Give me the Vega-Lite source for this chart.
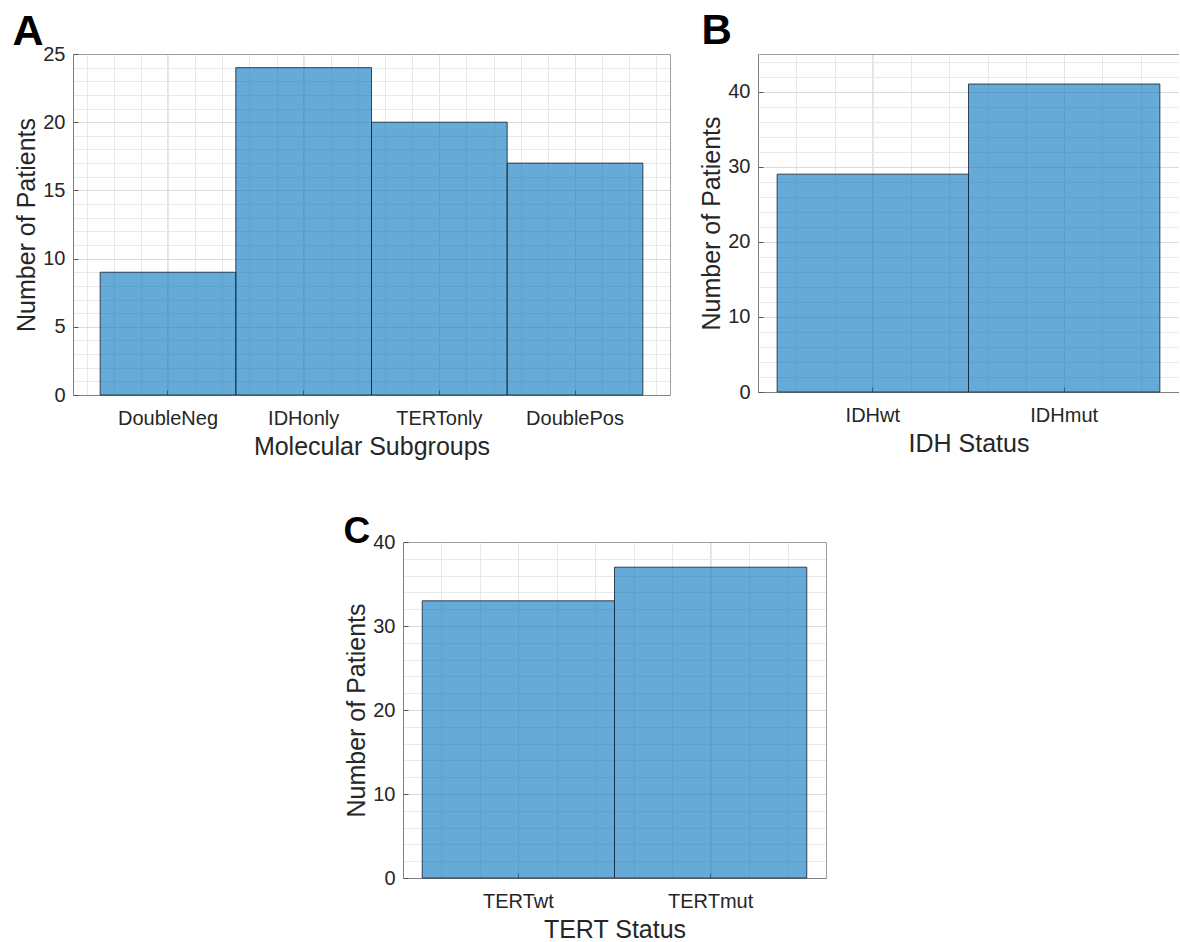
{
  "$schema": "https://vega.github.io/schema/vega-lite/v6.json",
  "padding": {"left": 12, "top": 9, "right": 0, "bottom": 5},
  "background": "white",
  "datasets": {
    "A": [
      {"group": "DoubleNeg", "count": 9},
      {"group": "IDHonly", "count": 24},
      {"group": "TERTonly", "count": 20},
      {"group": "DoublePos", "count": 17}
    ],
    "B": [
      {"group": "IDHwt", "count": 29},
      {"group": "IDHmut", "count": 41}
    ],
    "C": [
      {"group": "TERTwt", "count": 33},
      {"group": "TERTmut", "count": 37}
    ]
  },
  "align": "none",
  "spacing": 53,
  "vconcat": [
    {
      "align": "none",
      "spacing": 29,
      "hconcat": [
        {
          "width": 597, "height": 341,
          "data": {"name": "A"},
          "layer": [
            {
              "mark": {"type": "point", "opacity": 0},
              "encoding": {
                "x": {"datum": 1, "type": "quantitative", "scale": {"domain": [0.3, 4.7], "nice": false, "zero": false},
                  "axis": {"orient": "top", "values": [0.4,0.6,0.8,1,1.2,1.4,1.6,1.8,2,2.2,2.4,2.6,2.8,3,3.2,3.4,3.6,3.8,4,4.2,4.4,4.6], "grid": true, "gridColor": "#e9e9e9", "labels": false, "ticks": false, "domain": true, "domainColor": "#a0a0a0",
                    "title": "A", "titleX": -61, "titleY": -10, "titleAlign": "left", "titleBaseline": "alphabetic", "titleAngle": 0, "titleFontSize": 43, "titleFontWeight": "bold", "titleColor": "#000000"}},
                "y": {"datum": 0, "type": "quantitative", "scale": {"domain": [0, 25], "nice": false},
                  "axis": {"orient": "right", "values": [1,2,3,4,6,7,8,9,11,12,13,14,16,17,18,19,21,22,23,24], "grid": true, "gridColor": "#e9e9e9", "labels": false, "ticks": false, "domain": true, "domainColor": "#a0a0a0", "title": null}}
              }
            },
            {
              "mark": {"type": "bar", "fill": "#0072BD", "fillOpacity": 0.6, "stroke": "#1a2a3a", "strokeOpacity": 0.85, "strokeWidth": 1},
              "encoding": {
                "x": {"field": "group", "type": "nominal", "sort": null, "scale": {"paddingInner": 0, "paddingOuter": 0.2},
                  "axis": {"orient": "bottom", "title": "Molecular Subgroups", "labelAngle": 0, "grid": true, "gridColor": "#e2e2e2", "tickSize": -5, "tickColor": "#555555", "domainColor": "#808080", "labelPadding": 18, "titlePadding": 6}},
                "y": {"field": "count", "type": "quantitative", "scale": {"domain": [0, 25], "nice": false},
                  "axis": {"values": [0,5,10,15,20,25], "title": "Number of Patients", "grid": true, "gridColor": "#dcdcdc", "tickSize": -5, "tickColor": "#555555", "domainColor": "#808080", "labelPadding": 13, "titlePadding": 3}}
              }
            }
          ],
          "resolve": {"scale": {"x": "independent", "y": "independent"}, "axis": {"x": "independent", "y": "independent"}}
        },
        {
          "width": 421, "height": 338,
          "data": {"name": "B"},
          "layer": [
            {
              "mark": {"type": "point", "opacity": 0},
              "encoding": {
                "x": {"datum": 1, "type": "quantitative", "scale": {"domain": [0.4, 2.6], "nice": false, "zero": false},
                  "axis": {"orient": "top", "values": [0.6,0.8,1,1.2,1.4,1.6,1.8,2,2.2,2.4], "grid": true, "gridColor": "#e9e9e9", "labels": false, "ticks": false, "domain": true, "domainColor": "#a0a0a0",
                    "title": "B", "titleX": -57, "titleY": -11, "titleAlign": "left", "titleBaseline": "alphabetic", "titleAngle": 0, "titleFontSize": 42, "titleFontWeight": "bold", "titleColor": "#000000"}},
                "y": {"datum": 0, "type": "quantitative", "scale": {"domain": [0, 45], "nice": false},
                  "axis": {"orient": "right", "values": [2,4,6,8,12,14,16,18,22,24,26,28,32,34,36,38,42,44], "grid": true, "gridColor": "#e9e9e9", "labels": false, "ticks": false, "domain": true, "domainColor": "#a0a0a0", "title": null}}
              }
            },
            {
              "mark": {"type": "bar", "fill": "#0072BD", "fillOpacity": 0.6, "stroke": "#1a2a3a", "strokeOpacity": 0.85, "strokeWidth": 1},
              "encoding": {
                "x": {"field": "group", "type": "nominal", "sort": null, "scale": {"paddingInner": 0, "paddingOuter": 0.1},
                  "axis": {"orient": "bottom", "title": "IDH Status", "labelAngle": 0, "grid": true, "gridColor": "#e2e2e2", "tickSize": -5, "tickColor": "#555555", "domainColor": "#808080", "labelPadding": 18, "titlePadding": 6}},
                "y": {"field": "count", "type": "quantitative", "scale": {"domain": [0, 45], "nice": false},
                  "axis": {"values": [0,10,20,30,40], "title": "Number of Patients", "grid": true, "gridColor": "#dcdcdc", "tickSize": -5, "tickColor": "#555555", "domainColor": "#808080", "labelPadding": 13, "titlePadding": 3}}
              }
            }
          ],
          "resolve": {"scale": {"x": "independent", "y": "independent"}, "axis": {"x": "independent", "y": "independent"}}
        }
      ]
    },
    {
      "align": "none",
      "spacing": 20,
      "hconcat": [
        {
          "width": 250, "height": 10,
          "data": {"values": [{"blank": 0}]},
          "mark": {"type": "point", "opacity": 0},
          "encoding": {}
        },
        {
          "width": 423, "height": 336,
          "data": {"name": "C"},
          "layer": [
            {
              "mark": {"type": "point", "opacity": 0},
              "encoding": {
                "x": {"datum": 1, "type": "quantitative", "scale": {"domain": [0.4, 2.6], "nice": false, "zero": false},
                  "axis": {"orient": "top", "values": [0.6,0.8,1,1.2,1.4,1.6,1.8,2,2.2,2.4], "grid": true, "gridColor": "#e9e9e9", "labels": false, "ticks": false, "domain": true, "domainColor": "#a0a0a0",
                    "title": "C", "titleX": -60, "titleY": 0, "titleAlign": "left", "titleBaseline": "alphabetic", "titleAngle": 0, "titleFontSize": 37, "titleFontWeight": "bold", "titleColor": "#000000"}},
                "y": {"datum": 0, "type": "quantitative", "scale": {"domain": [0, 40], "nice": false},
                  "axis": {"orient": "right", "values": [2,4,6,8,12,14,16,18,22,24,26,28,32,34,36,38], "grid": true, "gridColor": "#e9e9e9", "labels": false, "ticks": false, "domain": true, "domainColor": "#a0a0a0", "title": null}}
              }
            },
            {
              "mark": {"type": "bar", "fill": "#0072BD", "fillOpacity": 0.6, "stroke": "#1a2a3a", "strokeOpacity": 0.85, "strokeWidth": 1},
              "encoding": {
                "x": {"field": "group", "type": "nominal", "sort": null, "scale": {"paddingInner": 0, "paddingOuter": 0.1},
                  "axis": {"orient": "bottom", "title": "TERT Status", "labelAngle": 0, "grid": true, "gridColor": "#e2e2e2", "tickSize": -5, "tickColor": "#555555", "domainColor": "#808080", "labelPadding": 18, "titlePadding": 6}},
                "y": {"field": "count", "type": "quantitative", "scale": {"domain": [0, 40], "nice": false},
                  "axis": {"values": [0,10,20,30,40], "title": "Number of Patients", "grid": true, "gridColor": "#dcdcdc", "tickSize": -5, "tickColor": "#555555", "domainColor": "#808080", "labelPadding": 13, "titlePadding": 3}}
              }
            }
          ],
          "resolve": {"scale": {"x": "independent", "y": "independent"}, "axis": {"x": "independent", "y": "independent"}}
        }
      ]
    }
  ],
  "config": {
    "view": {"stroke": null},
    "axis": {"labelFont": "Liberation Sans", "titleFont": "Liberation Sans", "labelFontSize": 20, "titleFontSize": 25, "titleFontWeight": "normal", "labelColor": "#262626", "titleColor": "#262626"}
  }
}
